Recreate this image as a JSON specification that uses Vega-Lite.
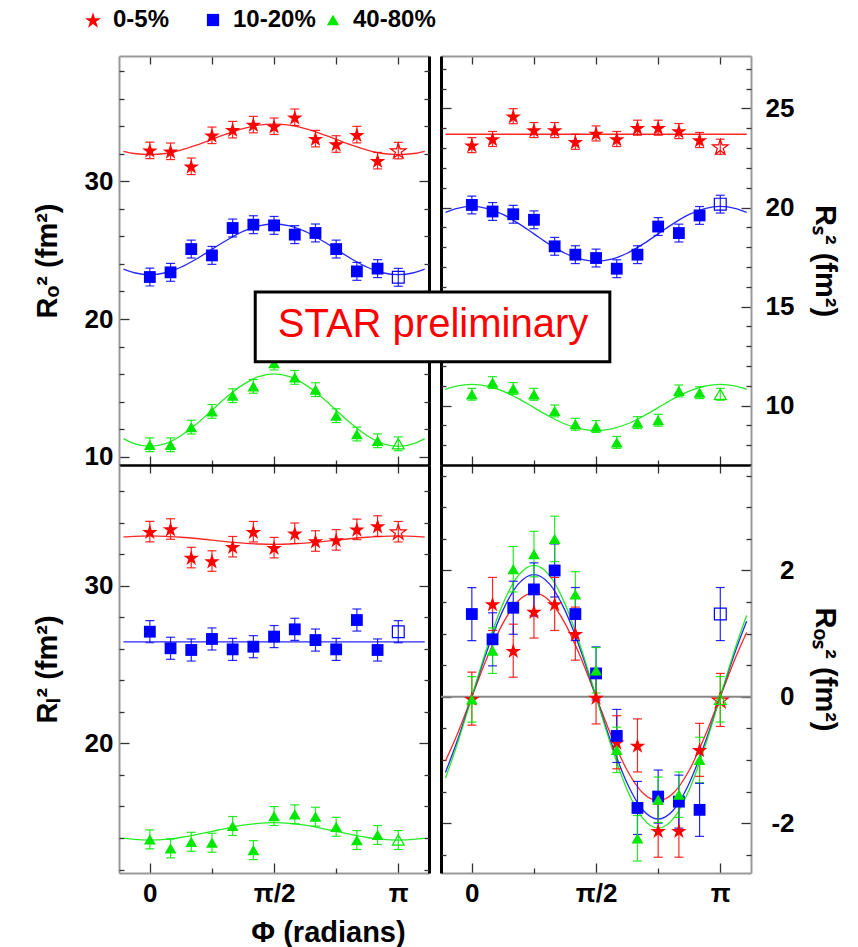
{
"$schema": "https://vega.github.io/schema/vega-lite/v6.json",
"padding": {"left": 33, "top": 8, "right": 5, "bottom": 0},
"columns": 2,
"spacing": {"row": 0, "column": 12},
"bounds": "flush",
"datasets": {
"pts": [
{"panel":"o","cent":"0-5%","phi":0,"R":32.25,"lo":31.65,"hi":32.85,"open":false},
{"panel":"o","cent":"0-5%","phi":0.2618,"R":32.18,"lo":31.58,"hi":32.78,"open":false},
{"panel":"o","cent":"0-5%","phi":0.5236,"R":31.09,"lo":30.49,"hi":31.69,"open":false},
{"panel":"o","cent":"0-5%","phi":0.7854,"R":33.34,"lo":32.74,"hi":33.94,"open":false},
{"panel":"o","cent":"0-5%","phi":1.0472,"R":33.75,"lo":33.15,"hi":34.35,"open":false},
{"panel":"o","cent":"0-5%","phi":1.309,"R":34.12,"lo":33.52,"hi":34.72,"open":false},
{"panel":"o","cent":"0-5%","phi":1.5708,"R":34.0,"lo":33.4,"hi":34.6,"open":false},
{"panel":"o","cent":"0-5%","phi":1.8326,"R":34.65,"lo":34.05,"hi":35.25,"open":false},
{"panel":"o","cent":"0-5%","phi":2.0944,"R":33.1,"lo":32.5,"hi":33.7,"open":false},
{"panel":"o","cent":"0-5%","phi":2.3562,"R":32.71,"lo":32.11,"hi":33.31,"open":false},
{"panel":"o","cent":"0-5%","phi":2.618,"R":33.39,"lo":32.79,"hi":33.99,"open":false},
{"panel":"o","cent":"0-5%","phi":2.8798,"R":31.5,"lo":30.9,"hi":32.1,"open":false},
{"panel":"o","cent":"0-5%","phi":3.1416,"R":32.23,"lo":31.63,"hi":32.83,"open":true},
{"panel":"o","cent":"10-20%","phi":0,"R":23.05,"lo":22.4,"hi":23.7,"open":false},
{"panel":"o","cent":"10-20%","phi":0.2618,"R":23.39,"lo":22.74,"hi":24.04,"open":false},
{"panel":"o","cent":"10-20%","phi":0.5236,"R":25.08,"lo":24.43,"hi":25.73,"open":false},
{"panel":"o","cent":"10-20%","phi":0.7854,"R":24.62,"lo":23.97,"hi":25.27,"open":false},
{"panel":"o","cent":"10-20%","phi":1.0472,"R":26.61,"lo":25.96,"hi":27.26,"open":false},
{"panel":"o","cent":"10-20%","phi":1.309,"R":26.85,"lo":26.2,"hi":27.5,"open":false},
{"panel":"o","cent":"10-20%","phi":1.5708,"R":26.8,"lo":26.15,"hi":27.45,"open":false},
{"panel":"o","cent":"10-20%","phi":1.8326,"R":26.13,"lo":25.48,"hi":26.78,"open":false},
{"panel":"o","cent":"10-20%","phi":2.0944,"R":26.25,"lo":25.6,"hi":26.9,"open":false},
{"panel":"o","cent":"10-20%","phi":2.3562,"R":25.08,"lo":24.43,"hi":25.73,"open":false},
{"panel":"o","cent":"10-20%","phi":2.618,"R":23.46,"lo":22.81,"hi":24.11,"open":false},
{"panel":"o","cent":"10-20%","phi":2.8798,"R":23.66,"lo":23.01,"hi":24.31,"open":false},
{"panel":"o","cent":"10-20%","phi":3.1416,"R":23.03,"lo":22.38,"hi":23.68,"open":true},
{"panel":"o","cent":"40-80%","phi":0,"R":10.87,"lo":10.37,"hi":11.37,"open":false},
{"panel":"o","cent":"40-80%","phi":0.2618,"R":10.87,"lo":10.37,"hi":11.37,"open":false},
{"panel":"o","cent":"40-80%","phi":0.5236,"R":12.15,"lo":11.65,"hi":12.65,"open":false},
{"panel":"o","cent":"40-80%","phi":0.7854,"R":13.29,"lo":12.79,"hi":13.79,"open":false},
{"panel":"o","cent":"40-80%","phi":1.0472,"R":14.43,"lo":13.93,"hi":14.93,"open":false},
{"panel":"o","cent":"40-80%","phi":1.309,"R":15.11,"lo":14.61,"hi":15.61,"open":false},
{"panel":"o","cent":"40-80%","phi":1.5708,"R":16.8,"lo":16.3,"hi":17.3,"open":false},
{"panel":"o","cent":"40-80%","phi":1.8326,"R":15.76,"lo":15.26,"hi":16.26,"open":false},
{"panel":"o","cent":"40-80%","phi":2.0944,"R":14.87,"lo":14.37,"hi":15.37,"open":false},
{"panel":"o","cent":"40-80%","phi":2.3562,"R":12.98,"lo":12.48,"hi":13.48,"open":false},
{"panel":"o","cent":"40-80%","phi":2.618,"R":11.65,"lo":11.15,"hi":12.15,"open":false},
{"panel":"o","cent":"40-80%","phi":2.8798,"R":11.16,"lo":10.66,"hi":11.66,"open":false},
{"panel":"o","cent":"40-80%","phi":3.1416,"R":10.94,"lo":10.44,"hi":11.44,"open":true},
{"panel":"s","cent":"0-5%","phi":0,"R":23.15,"lo":22.77,"hi":23.53,"open":false},
{"panel":"s","cent":"0-5%","phi":0.2618,"R":23.46,"lo":23.08,"hi":23.84,"open":false},
{"panel":"s","cent":"0-5%","phi":0.5236,"R":24.61,"lo":24.23,"hi":24.99,"open":false},
{"panel":"s","cent":"0-5%","phi":0.7854,"R":23.91,"lo":23.53,"hi":24.29,"open":false},
{"panel":"s","cent":"0-5%","phi":1.0472,"R":23.91,"lo":23.53,"hi":24.29,"open":false},
{"panel":"s","cent":"0-5%","phi":1.309,"R":23.32,"lo":22.94,"hi":23.7,"open":false},
{"panel":"s","cent":"0-5%","phi":1.5708,"R":23.74,"lo":23.36,"hi":24.12,"open":false},
{"panel":"s","cent":"0-5%","phi":1.8326,"R":23.46,"lo":23.08,"hi":23.84,"open":false},
{"panel":"s","cent":"0-5%","phi":2.0944,"R":24.03,"lo":23.65,"hi":24.41,"open":false},
{"panel":"s","cent":"0-5%","phi":2.3562,"R":24.03,"lo":23.65,"hi":24.41,"open":false},
{"panel":"s","cent":"0-5%","phi":2.618,"R":23.86,"lo":23.48,"hi":24.24,"open":false},
{"panel":"s","cent":"0-5%","phi":2.8798,"R":23.41,"lo":23.03,"hi":23.79,"open":false},
{"panel":"s","cent":"0-5%","phi":3.1416,"R":23.07,"lo":22.69,"hi":23.45,"open":true},
{"panel":"s","cent":"10-20%","phi":0,"R":20.13,"lo":19.68,"hi":20.58,"open":false},
{"panel":"s","cent":"10-20%","phi":0.2618,"R":19.8,"lo":19.35,"hi":20.25,"open":false},
{"panel":"s","cent":"10-20%","phi":0.5236,"R":19.66,"lo":19.21,"hi":20.11,"open":false},
{"panel":"s","cent":"10-20%","phi":0.7854,"R":19.38,"lo":18.93,"hi":19.83,"open":false},
{"panel":"s","cent":"10-20%","phi":1.0472,"R":18.04,"lo":17.59,"hi":18.49,"open":false},
{"panel":"s","cent":"10-20%","phi":1.309,"R":17.62,"lo":17.17,"hi":18.07,"open":false},
{"panel":"s","cent":"10-20%","phi":1.5708,"R":17.45,"lo":17.0,"hi":17.9,"open":false},
{"panel":"s","cent":"10-20%","phi":1.8326,"R":16.91,"lo":16.46,"hi":17.36,"open":false},
{"panel":"s","cent":"10-20%","phi":2.0944,"R":17.62,"lo":17.17,"hi":18.07,"open":false},
{"panel":"s","cent":"10-20%","phi":2.3562,"R":19.04,"lo":18.59,"hi":19.49,"open":false},
{"panel":"s","cent":"10-20%","phi":2.618,"R":18.71,"lo":18.26,"hi":19.16,"open":false},
{"panel":"s","cent":"10-20%","phi":2.8798,"R":19.6,"lo":19.15,"hi":20.05,"open":false},
{"panel":"s","cent":"10-20%","phi":3.1416,"R":20.17,"lo":19.72,"hi":20.62,"open":true},
{"panel":"s","cent":"40-80%","phi":0,"R":10.57,"lo":10.27,"hi":10.87,"open":false},
{"panel":"s","cent":"40-80%","phi":0.2618,"R":11.16,"lo":10.86,"hi":11.46,"open":false},
{"panel":"s","cent":"40-80%","phi":0.5236,"R":10.86,"lo":10.56,"hi":11.16,"open":false},
{"panel":"s","cent":"40-80%","phi":0.7854,"R":10.57,"lo":10.27,"hi":10.87,"open":false},
{"panel":"s","cent":"40-80%","phi":1.0472,"R":9.73,"lo":9.43,"hi":10.03,"open":false},
{"panel":"s","cent":"40-80%","phi":1.309,"R":9.06,"lo":8.76,"hi":9.36,"open":false},
{"panel":"s","cent":"40-80%","phi":1.5708,"R":8.94,"lo":8.64,"hi":9.24,"open":false},
{"panel":"s","cent":"40-80%","phi":1.8326,"R":8.14,"lo":7.84,"hi":8.44,"open":false},
{"panel":"s","cent":"40-80%","phi":2.0944,"R":9.14,"lo":8.84,"hi":9.44,"open":false},
{"panel":"s","cent":"40-80%","phi":2.3562,"R":9.26,"lo":8.96,"hi":9.56,"open":false},
{"panel":"s","cent":"40-80%","phi":2.618,"R":10.74,"lo":10.44,"hi":11.04,"open":false},
{"panel":"s","cent":"40-80%","phi":2.8798,"R":10.65,"lo":10.35,"hi":10.95,"open":false},
{"panel":"s","cent":"40-80%","phi":3.1416,"R":10.57,"lo":10.27,"hi":10.87,"open":true},
{"panel":"l","cent":"0-5%","phi":0,"R":33.42,"lo":32.77,"hi":34.07,"open":false},
{"panel":"l","cent":"0-5%","phi":0.2618,"R":33.59,"lo":32.94,"hi":34.24,"open":false},
{"panel":"l","cent":"0-5%","phi":0.5236,"R":31.78,"lo":31.13,"hi":32.43,"open":false},
{"panel":"l","cent":"0-5%","phi":0.7854,"R":31.56,"lo":30.91,"hi":32.21,"open":false},
{"panel":"l","cent":"0-5%","phi":1.0472,"R":32.47,"lo":31.82,"hi":33.12,"open":false},
{"panel":"l","cent":"0-5%","phi":1.309,"R":33.42,"lo":32.77,"hi":34.07,"open":false},
{"panel":"l","cent":"0-5%","phi":1.5708,"R":32.41,"lo":31.76,"hi":33.06,"open":false},
{"panel":"l","cent":"0-5%","phi":1.8326,"R":33.32,"lo":32.67,"hi":33.97,"open":false},
{"panel":"l","cent":"0-5%","phi":2.0944,"R":32.83,"lo":32.18,"hi":33.48,"open":false},
{"panel":"l","cent":"0-5%","phi":2.3562,"R":32.9,"lo":32.25,"hi":33.55,"open":false},
{"panel":"l","cent":"0-5%","phi":2.618,"R":33.57,"lo":32.92,"hi":34.22,"open":false},
{"panel":"l","cent":"0-5%","phi":2.8798,"R":33.78,"lo":33.13,"hi":34.43,"open":false},
{"panel":"l","cent":"0-5%","phi":3.1416,"R":33.42,"lo":32.77,"hi":34.07,"open":true},
{"panel":"l","cent":"10-20%","phi":0,"R":27.08,"lo":26.38,"hi":27.78,"open":false},
{"panel":"l","cent":"10-20%","phi":0.2618,"R":26.03,"lo":25.33,"hi":26.73,"open":false},
{"panel":"l","cent":"10-20%","phi":0.5236,"R":25.92,"lo":25.22,"hi":26.62,"open":false},
{"panel":"l","cent":"10-20%","phi":0.7854,"R":26.62,"lo":25.92,"hi":27.32,"open":false},
{"panel":"l","cent":"10-20%","phi":1.0472,"R":25.96,"lo":25.26,"hi":26.66,"open":false},
{"panel":"l","cent":"10-20%","phi":1.309,"R":26.13,"lo":25.43,"hi":26.83,"open":false},
{"panel":"l","cent":"10-20%","phi":1.5708,"R":26.77,"lo":26.07,"hi":27.47,"open":false},
{"panel":"l","cent":"10-20%","phi":1.8326,"R":27.23,"lo":26.53,"hi":27.93,"open":false},
{"panel":"l","cent":"10-20%","phi":2.0944,"R":26.55,"lo":25.85,"hi":27.25,"open":false},
{"panel":"l","cent":"10-20%","phi":2.3562,"R":25.96,"lo":25.26,"hi":26.66,"open":false},
{"panel":"l","cent":"10-20%","phi":2.618,"R":27.82,"lo":27.12,"hi":28.52,"open":false},
{"panel":"l","cent":"10-20%","phi":2.8798,"R":25.92,"lo":25.22,"hi":26.62,"open":false},
{"panel":"l","cent":"10-20%","phi":3.1416,"R":27.08,"lo":26.38,"hi":27.78,"open":true},
{"panel":"l","cent":"40-80%","phi":0,"R":13.91,"lo":13.31,"hi":14.51,"open":false},
{"panel":"l","cent":"40-80%","phi":0.2618,"R":13.34,"lo":12.74,"hi":13.94,"open":false},
{"panel":"l","cent":"40-80%","phi":0.5236,"R":13.76,"lo":13.16,"hi":14.36,"open":false},
{"panel":"l","cent":"40-80%","phi":0.7854,"R":13.7,"lo":13.1,"hi":14.3,"open":false},
{"panel":"l","cent":"40-80%","phi":1.0472,"R":14.76,"lo":14.16,"hi":15.36,"open":false},
{"panel":"l","cent":"40-80%","phi":1.309,"R":13.23,"lo":12.63,"hi":13.83,"open":false},
{"panel":"l","cent":"40-80%","phi":1.5708,"R":15.39,"lo":14.79,"hi":15.99,"open":false},
{"panel":"l","cent":"40-80%","phi":1.8326,"R":15.5,"lo":14.9,"hi":16.1,"open":false},
{"panel":"l","cent":"40-80%","phi":2.0944,"R":15.35,"lo":14.75,"hi":15.95,"open":false},
{"panel":"l","cent":"40-80%","phi":2.3562,"R":14.71,"lo":14.11,"hi":15.31,"open":false},
{"panel":"l","cent":"40-80%","phi":2.618,"R":13.87,"lo":13.27,"hi":14.47,"open":false},
{"panel":"l","cent":"40-80%","phi":2.8798,"R":14.19,"lo":13.59,"hi":14.79,"open":false},
{"panel":"l","cent":"40-80%","phi":3.1416,"R":13.87,"lo":13.27,"hi":14.47,"open":true},
{"panel":"os","cent":"0-5%","phi":0,"R":-0.03,"lo":-0.45,"hi":0.39,"open":false},
{"panel":"os","cent":"0-5%","phi":0.2618,"R":1.47,"lo":1.05,"hi":1.89,"open":false},
{"panel":"os","cent":"0-5%","phi":0.5236,"R":0.73,"lo":0.31,"hi":1.15,"open":false},
{"panel":"os","cent":"0-5%","phi":0.7854,"R":1.35,"lo":0.93,"hi":1.77,"open":false},
{"panel":"os","cent":"0-5%","phi":1.0472,"R":1.47,"lo":1.05,"hi":1.89,"open":false},
{"panel":"os","cent":"0-5%","phi":1.309,"R":1.0,"lo":0.58,"hi":1.42,"open":false},
{"panel":"os","cent":"0-5%","phi":1.5708,"R":-0.01,"lo":-0.43,"hi":0.41,"open":false},
{"panel":"os","cent":"0-5%","phi":1.8326,"R":-0.72,"lo":-1.14,"hi":-0.3,"open":false},
{"panel":"os","cent":"0-5%","phi":2.0944,"R":-0.77,"lo":-1.19,"hi":-0.35,"open":false},
{"panel":"os","cent":"0-5%","phi":2.3562,"R":-2.12,"lo":-2.54,"hi":-1.7,"open":false},
{"panel":"os","cent":"0-5%","phi":2.618,"R":-2.12,"lo":-2.54,"hi":-1.7,"open":false},
{"panel":"os","cent":"0-5%","phi":2.8798,"R":-0.84,"lo":-1.26,"hi":-0.42,"open":false},
{"panel":"os","cent":"0-5%","phi":3.1416,"R":-0.05,"lo":-0.47,"hi":0.37,"open":true},
{"panel":"os","cent":"10-20%","phi":0,"R":1.31,"lo":0.89,"hi":1.73,"open":false},
{"panel":"os","cent":"10-20%","phi":0.2618,"R":0.91,"lo":0.49,"hi":1.33,"open":false},
{"panel":"os","cent":"10-20%","phi":0.5236,"R":1.41,"lo":0.99,"hi":1.83,"open":false},
{"panel":"os","cent":"10-20%","phi":0.7854,"R":1.7,"lo":1.28,"hi":2.12,"open":false},
{"panel":"os","cent":"10-20%","phi":1.0472,"R":2.0,"lo":1.58,"hi":2.42,"open":false},
{"panel":"os","cent":"10-20%","phi":1.309,"R":1.31,"lo":0.89,"hi":1.73,"open":false},
{"panel":"os","cent":"10-20%","phi":1.5708,"R":0.37,"lo":-0.05,"hi":0.79,"open":false},
{"panel":"os","cent":"10-20%","phi":1.8326,"R":-0.62,"lo":-1.04,"hi":-0.2,"open":false},
{"panel":"os","cent":"10-20%","phi":2.0944,"R":-1.76,"lo":-2.18,"hi":-1.34,"open":false},
{"panel":"os","cent":"10-20%","phi":2.3562,"R":-1.58,"lo":-2.0,"hi":-1.16,"open":false},
{"panel":"os","cent":"10-20%","phi":2.618,"R":-1.66,"lo":-2.08,"hi":-1.24,"open":false},
{"panel":"os","cent":"10-20%","phi":2.8798,"R":-1.79,"lo":-2.21,"hi":-1.37,"open":false},
{"panel":"os","cent":"10-20%","phi":3.1416,"R":1.31,"lo":0.89,"hi":1.73,"open":true},
{"panel":"os","cent":"40-80%","phi":0,"R":-0.04,"lo":-0.4,"hi":0.32,"open":false},
{"panel":"os","cent":"40-80%","phi":0.2618,"R":0.73,"lo":0.37,"hi":1.09,"open":false},
{"panel":"os","cent":"40-80%","phi":0.5236,"R":2.02,"lo":1.66,"hi":2.38,"open":false},
{"panel":"os","cent":"40-80%","phi":0.7854,"R":2.26,"lo":1.9,"hi":2.62,"open":false},
{"panel":"os","cent":"40-80%","phi":1.0472,"R":2.5,"lo":2.14,"hi":2.86,"open":false},
{"panel":"os","cent":"40-80%","phi":1.309,"R":1.62,"lo":1.26,"hi":1.98,"open":false},
{"panel":"os","cent":"40-80%","phi":1.5708,"R":0.42,"lo":0.06,"hi":0.78,"open":false},
{"panel":"os","cent":"40-80%","phi":1.8326,"R":-0.84,"lo":-1.2,"hi":-0.48,"open":false},
{"panel":"os","cent":"40-80%","phi":2.0944,"R":-2.24,"lo":-2.6,"hi":-1.88,"open":false},
{"panel":"os","cent":"40-80%","phi":2.3562,"R":-1.63,"lo":-1.99,"hi":-1.27,"open":false},
{"panel":"os","cent":"40-80%","phi":2.618,"R":-1.55,"lo":-1.91,"hi":-1.19,"open":false},
{"panel":"os","cent":"40-80%","phi":2.8798,"R":-1.0,"lo":-1.36,"hi":-0.64,"open":false},
{"panel":"os","cent":"40-80%","phi":3.1416,"R":-0.04,"lo":-0.4,"hi":0.32,"open":true}
],
"fit": [
{"panel":"o","phi":-0.3338,"0-5%":32.18,"10-20%":23.62,"40-80%":11.32},
{"panel":"o","phi":-0.1963,"0-5%":32.02,"10-20%":23.36,"40-80%":10.95},
{"panel":"o","phi":0,"0-5%":31.94,"10-20%":23.22,"40-80%":10.75},
{"panel":"o","phi":0.1963,"0-5%":32.02,"10-20%":23.36,"40-80%":10.95},
{"panel":"o","phi":0.3927,"0-5%":32.27,"10-20%":23.76,"40-80%":11.52},
{"panel":"o","phi":0.589,"0-5%":32.63,"10-20%":24.36,"40-80%":12.37},
{"panel":"o","phi":0.7854,"0-5%":33.05,"10-20%":25.06,"40-80%":13.38},
{"panel":"o","phi":0.9817,"0-5%":33.47,"10-20%":25.76,"40-80%":14.39},
{"panel":"o","phi":1.1781,"0-5%":33.83,"10-20%":26.36,"40-80%":15.24},
{"panel":"o","phi":1.3744,"0-5%":34.08,"10-20%":26.76,"40-80%":15.81},
{"panel":"o","phi":1.5708,"0-5%":34.16,"10-20%":26.9,"40-80%":16.01},
{"panel":"o","phi":1.7671,"0-5%":34.08,"10-20%":26.76,"40-80%":15.81},
{"panel":"o","phi":1.9635,"0-5%":33.83,"10-20%":26.36,"40-80%":15.24},
{"panel":"o","phi":2.1598,"0-5%":33.47,"10-20%":25.76,"40-80%":14.39},
{"panel":"o","phi":2.3562,"0-5%":33.05,"10-20%":25.06,"40-80%":13.38},
{"panel":"o","phi":2.5525,"0-5%":32.63,"10-20%":24.36,"40-80%":12.37},
{"panel":"o","phi":2.7489,"0-5%":32.27,"10-20%":23.76,"40-80%":11.52},
{"panel":"o","phi":2.9452,"0-5%":32.02,"10-20%":23.36,"40-80%":10.95},
{"panel":"o","phi":3.1416,"0-5%":31.94,"10-20%":23.22,"40-80%":10.75},
{"panel":"o","phi":3.3379,"0-5%":32.02,"10-20%":23.36,"40-80%":10.95},
{"panel":"o","phi":3.4754,"0-5%":32.18,"10-20%":23.62,"40-80%":11.32},
{"panel":"s","phi":-0.3338,"0-5%":23.7,"10-20%":19.76,"40-80%":10.82},
{"panel":"s","phi":-0.1963,"0-5%":23.7,"10-20%":19.95,"40-80%":10.98},
{"panel":"s","phi":0,"0-5%":23.7,"10-20%":20.06,"40-80%":11.07},
{"panel":"s","phi":0.1963,"0-5%":23.7,"10-20%":19.95,"40-80%":10.98},
{"panel":"s","phi":0.3927,"0-5%":23.7,"10-20%":19.65,"40-80%":10.73},
{"panel":"s","phi":0.589,"0-5%":23.7,"10-20%":19.2,"40-80%":10.35},
{"panel":"s","phi":0.7854,"0-5%":23.7,"10-20%":18.67,"40-80%":9.9},
{"panel":"s","phi":0.9817,"0-5%":23.7,"10-20%":18.14,"40-80%":9.45},
{"panel":"s","phi":1.1781,"0-5%":23.7,"10-20%":17.69,"40-80%":9.07},
{"panel":"s","phi":1.3744,"0-5%":23.7,"10-20%":17.39,"40-80%":8.82},
{"panel":"s","phi":1.5708,"0-5%":23.7,"10-20%":17.29,"40-80%":8.73},
{"panel":"s","phi":1.7671,"0-5%":23.7,"10-20%":17.39,"40-80%":8.82},
{"panel":"s","phi":1.9635,"0-5%":23.7,"10-20%":17.69,"40-80%":9.07},
{"panel":"s","phi":2.1598,"0-5%":23.7,"10-20%":18.14,"40-80%":9.45},
{"panel":"s","phi":2.3562,"0-5%":23.7,"10-20%":18.67,"40-80%":9.9},
{"panel":"s","phi":2.5525,"0-5%":23.7,"10-20%":19.2,"40-80%":10.35},
{"panel":"s","phi":2.7489,"0-5%":23.7,"10-20%":19.65,"40-80%":10.73},
{"panel":"s","phi":2.9452,"0-5%":23.7,"10-20%":19.95,"40-80%":10.98},
{"panel":"s","phi":3.1416,"0-5%":23.7,"10-20%":20.06,"40-80%":11.07},
{"panel":"s","phi":3.3379,"0-5%":23.7,"10-20%":19.95,"40-80%":10.98},
{"panel":"s","phi":3.4754,"0-5%":23.7,"10-20%":19.76,"40-80%":10.82},
{"panel":"l","phi":-0.3338,"0-5%":33.09,"10-20%":26.43,"40-80%":13.99},
{"panel":"l","phi":-0.1963,"0-5%":33.13,"10-20%":26.43,"40-80%":13.91},
{"panel":"l","phi":0,"0-5%":33.15,"10-20%":26.43,"40-80%":13.87},
{"panel":"l","phi":0.1963,"0-5%":33.13,"10-20%":26.43,"40-80%":13.91},
{"panel":"l","phi":0.3927,"0-5%":33.07,"10-20%":26.43,"40-80%":14.03},
{"panel":"l","phi":0.589,"0-5%":32.99,"10-20%":26.43,"40-80%":14.21},
{"panel":"l","phi":0.7854,"0-5%":32.89,"10-20%":26.43,"40-80%":14.42},
{"panel":"l","phi":0.9817,"0-5%":32.78,"10-20%":26.43,"40-80%":14.63},
{"panel":"l","phi":1.1781,"0-5%":32.7,"10-20%":26.43,"40-80%":14.81},
{"panel":"l","phi":1.3744,"0-5%":32.64,"10-20%":26.43,"40-80%":14.93},
{"panel":"l","phi":1.5708,"0-5%":32.62,"10-20%":26.43,"40-80%":14.97},
{"panel":"l","phi":1.7671,"0-5%":32.64,"10-20%":26.43,"40-80%":14.93},
{"panel":"l","phi":1.9635,"0-5%":32.7,"10-20%":26.43,"40-80%":14.81},
{"panel":"l","phi":2.1598,"0-5%":32.78,"10-20%":26.43,"40-80%":14.63},
{"panel":"l","phi":2.3562,"0-5%":32.89,"10-20%":26.43,"40-80%":14.42},
{"panel":"l","phi":2.5525,"0-5%":32.99,"10-20%":26.43,"40-80%":14.21},
{"panel":"l","phi":2.7489,"0-5%":33.07,"10-20%":26.43,"40-80%":14.03},
{"panel":"l","phi":2.9452,"0-5%":33.13,"10-20%":26.43,"40-80%":13.91},
{"panel":"l","phi":3.1416,"0-5%":33.15,"10-20%":26.43,"40-80%":13.87},
{"panel":"l","phi":3.3379,"0-5%":33.13,"10-20%":26.43,"40-80%":13.91},
{"panel":"l","phi":3.4754,"0-5%":33.09,"10-20%":26.43,"40-80%":13.99},
{"panel":"os","phi":-0.3338,"0-5%":-1.018,"10-20%":-1.198,"40-80%":-1.288},
{"panel":"os","phi":-0.1963,"0-5%":-0.63,"10-20%":-0.741,"40-80%":-0.796},
{"panel":"os","phi":0,"0-5%":0,"10-20%":0,"40-80%":0},
{"panel":"os","phi":0.1963,"0-5%":0.63,"10-20%":0.741,"40-80%":0.796},
{"panel":"os","phi":0.3927,"0-5%":1.163,"10-20%":1.368,"40-80%":1.471},
{"panel":"os","phi":0.589,"0-5%":1.52,"10-20%":1.788,"40-80%":1.922},
{"panel":"os","phi":0.7854,"0-5%":1.645,"10-20%":1.935,"40-80%":2.08},
{"panel":"os","phi":0.9817,"0-5%":1.52,"10-20%":1.788,"40-80%":1.922},
{"panel":"os","phi":1.1781,"0-5%":1.163,"10-20%":1.368,"40-80%":1.471},
{"panel":"os","phi":1.3744,"0-5%":0.63,"10-20%":0.741,"40-80%":0.796},
{"panel":"os","phi":1.5708,"0-5%":0,"10-20%":0,"40-80%":0},
{"panel":"os","phi":1.7671,"0-5%":-0.63,"10-20%":-0.741,"40-80%":-0.796},
{"panel":"os","phi":1.9635,"0-5%":-1.163,"10-20%":-1.368,"40-80%":-1.471},
{"panel":"os","phi":2.1598,"0-5%":-1.52,"10-20%":-1.788,"40-80%":-1.922},
{"panel":"os","phi":2.3562,"0-5%":-1.645,"10-20%":-1.935,"40-80%":-2.08},
{"panel":"os","phi":2.5525,"0-5%":-1.52,"10-20%":-1.788,"40-80%":-1.922},
{"panel":"os","phi":2.7489,"0-5%":-1.163,"10-20%":-1.368,"40-80%":-1.471},
{"panel":"os","phi":2.9452,"0-5%":-0.63,"10-20%":-0.741,"40-80%":-0.796},
{"panel":"os","phi":3.1416,"0-5%":0,"10-20%":0,"40-80%":0},
{"panel":"os","phi":3.3379,"0-5%":0.63,"10-20%":0.741,"40-80%":0.796},
{"panel":"os","phi":3.4754,"0-5%":1.018,"10-20%":1.198,"40-80%":1.288}
]
},
"concat": [
{
"width": 310, "height": 409,
"resolve": {"axis": {"x": "independent", "y": "independent"}},
"layer": [
{"data": {"name": "fit"}, "transform": [{"filter": "datum.panel == 'o'"}, {"fold": ["0-5%", "10-20%", "40-80%"], "as": ["cent", "R"]}],
 "mark": {"type": "line", "strokeWidth": 1.3, "interpolate": "monotone", "opacity": 0.85},
 "encoding": {
  "x": {"field": "phi", "type": "quantitative", "scale": {"domain": [-0.39, 3.53], "nice": false, "zero": false},
        "axis": {"orient": "bottom", "values": [0, 1.5708, 3.1416], "labels": false, "tickSize": -9, "domainColor": "#000", "domainWidth": 2, "title": null}},
  "y": {"field": "R", "type": "quantitative", "scale": {"domain": [9.4, 39.1], "nice": false, "zero": false},
        "axis": {"orient": "left", "values": [10, 20, 30], "tickSize": -10, "labelPadding": 16, "domainColor": "#999", "domainWidth": 2, "title": "Rₒ² (fm²)", "titlePadding": 22}},
  "stroke": {"field": "cent", "type": "nominal", "scale": {"domain": ["40-80%", "10-20%", "0-5%"], "range": ["#00e800", "#0000ff", "#ff0000"]}, "legend": null}
 }},
{"data": {"name": "pts"}, "transform": [{"filter": "datum.panel == 'o'"}],
 "mark": {"type": "rule", "strokeWidth": 1.2, "opacity": 0.85},
 "encoding": {
  "x": {"field": "phi", "type": "quantitative", "axis": {"orient": "bottom", "values": [0.7854, 2.3562], "labels": false, "tickSize": -5, "domain": false, "title": null}},
  "y": {"field": "lo", "type": "quantitative", "axis": {"orient": "left", "values": [12, 14, 16, 18, 22, 24, 26, 28, 32, 34, 36, 38], "labels": false, "tickSize": -5, "domain": false, "title": null}},
  "y2": {"field": "hi"},
  "stroke": {"field": "cent", "type": "nominal", "legend": null}
 }},
{"data": {"name": "pts"}, "transform": [{"filter": "datum.panel == 'o'"}],
 "mark": {"type": "tick", "orient": "horizontal", "size": 9, "thickness": 1.2, "opacity": 0.85},
 "encoding": {"x": {"field": "phi", "type": "quantitative", "axis": null}, "y": {"field": "lo", "type": "quantitative", "axis": null}, "fill": {"field": "cent", "type": "nominal", "scale": {"domain": ["40-80%", "10-20%", "0-5%"], "range": ["#00e800", "#0000ff", "#ff0000"]}, "legend": null}}},
{"data": {"name": "pts"}, "transform": [{"filter": "datum.panel == 'o'"}],
 "mark": {"type": "tick", "orient": "horizontal", "size": 9, "thickness": 1.2, "opacity": 0.85},
 "encoding": {"x": {"field": "phi", "type": "quantitative", "axis": null}, "y": {"field": "hi", "type": "quantitative", "axis": null}, "fill": {"field": "cent", "type": "nominal", "legend": null}}},
{"data": {"name": "pts"}, "transform": [{"filter": "datum.panel == 'o' && !datum.open"}],
 "mark": {"type": "point", "filled": true, "size": 140, "opacity": 1},
 "encoding": {
  "x": {"field": "phi", "type": "quantitative", "axis": {"orient": "top", "values": [0, 0.7854, 1.5708, 2.3562, 3.1416], "labels": false, "tickSize": -8, "domainColor": "#999", "domainWidth": 2, "title": null}},
  "y": {"field": "R", "type": "quantitative", "axis": {"orient": "right", "values": [10, 20, 30], "labels": false, "tickSize": -10, "domainColor": "#000", "domainWidth": 3, "title": null}},
  "color": {"field": "cent", "type": "nominal", "scale": {"domain": ["0-5%", "10-20%", "40-80%"], "range": ["#ff0000", "#0000ff", "#00e800"]}},
  "shape": {"field": "cent", "type": "nominal", "scale": {"domain": ["0-5%", "10-20%", "40-80%"], "range": ["M0,-1.248L0.31,-0.294L1.313,-0.294L0.5,0.295L0.811,1.248L0,0.659L-0.811,1.248L-0.5,0.295L-1.313,-0.294L-0.31,-0.294Z", "square", "triangle-up"]}}
 }},
{"data": {"name": "pts"}, "transform": [{"filter": "datum.panel == 'o' && datum.open"}],
 "mark": {"type": "point", "filled": false, "size": 140, "strokeWidth": 1.2, "opacity": 1},
 "encoding": {
  "x": {"field": "phi", "type": "quantitative", "axis": null},
  "y": {"field": "R", "type": "quantitative", "axis": {"orient": "right", "values": [12, 14, 16, 18, 22, 24, 26, 28, 32, 34, 36, 38], "labels": false, "tickSize": -5, "domain": false, "title": null}},
  "color": {"field": "cent", "type": "nominal"},
  "shape": {"field": "cent", "type": "nominal"}
 }}
]
},
{
"width": 310, "height": 409,
"resolve": {"axis": {"x": "independent", "y": "independent"}},
"layer": [
{"data": {"name": "fit"}, "transform": [{"filter": "datum.panel == 's'"}, {"fold": ["0-5%", "10-20%", "40-80%"], "as": ["cent", "R"]}],
 "mark": {"type": "line", "strokeWidth": 1.3, "interpolate": "monotone", "opacity": 0.85},
 "encoding": {
  "x": {"field": "phi", "type": "quantitative", "scale": {"domain": [-0.39, 3.53], "nice": false, "zero": false},
        "axis": {"orient": "bottom", "values": [0, 1.5708, 3.1416], "labels": false, "tickSize": -9, "domainColor": "#000", "domainWidth": 2, "title": null}},
  "y": {"field": "R", "type": "quantitative", "scale": {"domain": [7.0, 27.65], "nice": false, "zero": false},
        "axis": {"orient": "right", "values": [10, 15, 20, 25], "tickSize": -10, "labelPadding": 53, "labelAlign": "right", "domainColor": "#999", "domainWidth": 2, "title": "Rₛ² (fm²)", "titlePadding": 15}},
  "stroke": {"field": "cent", "type": "nominal", "scale": {"domain": ["40-80%", "10-20%", "0-5%"], "range": ["#00e800", "#0000ff", "#ff0000"]}, "legend": null}
 }},
{"data": {"name": "pts"}, "transform": [{"filter": "datum.panel == 's'"}],
 "mark": {"type": "rule", "strokeWidth": 1.2, "opacity": 0.85},
 "encoding": {
  "x": {"field": "phi", "type": "quantitative", "axis": {"orient": "bottom", "values": [0.7854, 2.3562], "labels": false, "tickSize": -5, "domain": false, "title": null}},
  "y": {"field": "lo", "type": "quantitative", "axis": {"orient": "right", "values": [8, 9, 11, 12, 13, 14, 16, 17, 18, 19, 21, 22, 23, 24, 26, 27], "labels": false, "tickSize": -5, "domain": false, "title": null}},
  "y2": {"field": "hi"},
  "stroke": {"field": "cent", "type": "nominal", "legend": null}
 }},
{"data": {"name": "pts"}, "transform": [{"filter": "datum.panel == 's'"}],
 "mark": {"type": "tick", "orient": "horizontal", "size": 9, "thickness": 1.2, "opacity": 0.85},
 "encoding": {"x": {"field": "phi", "type": "quantitative", "axis": null}, "y": {"field": "lo", "type": "quantitative", "axis": null}, "fill": {"field": "cent", "type": "nominal", "scale": {"domain": ["40-80%", "10-20%", "0-5%"], "range": ["#00e800", "#0000ff", "#ff0000"]}, "legend": null}}},
{"data": {"name": "pts"}, "transform": [{"filter": "datum.panel == 's'"}],
 "mark": {"type": "tick", "orient": "horizontal", "size": 9, "thickness": 1.2, "opacity": 0.85},
 "encoding": {"x": {"field": "phi", "type": "quantitative", "axis": null}, "y": {"field": "hi", "type": "quantitative", "axis": null}, "fill": {"field": "cent", "type": "nominal", "legend": null}}},
{"data": {"name": "pts"}, "transform": [{"filter": "datum.panel == 's' && !datum.open"}],
 "mark": {"type": "point", "filled": true, "size": 140, "opacity": 1},
 "encoding": {
  "x": {"field": "phi", "type": "quantitative", "axis": {"orient": "top", "values": [0, 0.7854, 1.5708, 2.3562, 3.1416], "labels": false, "tickSize": -8, "domainColor": "#999", "domainWidth": 2, "title": null}},
  "y": {"field": "R", "type": "quantitative", "axis": {"orient": "left", "values": [10, 15, 20, 25], "labels": false, "tickSize": -10, "domainColor": "#000", "domainWidth": 3, "title": null}},
  "color": {"field": "cent", "type": "nominal", "scale": {"domain": ["0-5%", "10-20%", "40-80%"], "range": ["#ff0000", "#0000ff", "#00e800"]}},
  "shape": {"field": "cent", "type": "nominal", "scale": {"domain": ["0-5%", "10-20%", "40-80%"], "range": ["M0,-1.248L0.31,-0.294L1.313,-0.294L0.5,0.295L0.811,1.248L0,0.659L-0.811,1.248L-0.5,0.295L-1.313,-0.294L-0.31,-0.294Z", "square", "triangle-up"]}}
 }},
{"data": {"name": "pts"}, "transform": [{"filter": "datum.panel == 's' && datum.open"}],
 "mark": {"type": "point", "filled": false, "size": 140, "strokeWidth": 1.2, "opacity": 1},
 "encoding": {
  "x": {"field": "phi", "type": "quantitative", "axis": null},
  "y": {"field": "R", "type": "quantitative", "axis": {"orient": "left", "values": [8, 9, 11, 12, 13, 14, 16, 17, 18, 19, 21, 22, 23, 24, 26, 27], "labels": false, "tickSize": -5, "domain": false, "title": null}},
  "color": {"field": "cent", "type": "nominal"},
  "shape": {"field": "cent", "type": "nominal"}
 }},
{"data": {"values": [{"label": "STAR preliminary"}]},
 "mark": {"type": "rect", "fill": "#ffffff", "stroke": "#000000", "strokeWidth": 3},
 "encoding": {"x": {"datum": -2.739, "axis": null}, "x2": {"datum": 1.745}, "y": {"datum": 15.74, "axis": null}, "y2": {"datum": 12.21}}},
{"data": {"values": [{"label": "STAR preliminary"}]},
 "mark": {"type": "text", "font": "Liberation Sans", "fontSize": 40, "color": "#ff0000", "align": "center", "baseline": "alphabetic"},
 "encoding": {"x": {"datum": -0.491, "axis": null}, "y": {"datum": 13.46, "axis": null}, "text": {"field": "label"}}}
]
},
{
"width": 310, "height": 408,
"resolve": {"axis": {"x": "independent", "y": "independent"}},
"layer": [
{"data": {"name": "fit"}, "transform": [{"filter": "datum.panel == 'l'"}, {"fold": ["0-5%", "10-20%", "40-80%"], "as": ["cent", "R"]}],
 "mark": {"type": "line", "strokeWidth": 1.3, "interpolate": "monotone", "opacity": 0.85},
 "encoding": {
  "x": {"field": "phi", "type": "quantitative", "scale": {"domain": [-0.39, 3.53], "nice": false, "zero": false},
        "axis": {"orient": "bottom", "values": [0, 1.5708, 3.1416], "labelExpr": "datum.value < 0.5 ? '0' : datum.value < 2 ? 'π/2' : 'π'", "labelFontSize": 26, "tickSize": -10, "labelPadding": 17, "domainColor": "#999", "domainWidth": 2, "title": "Φ (radians)", "titleX": 209, "titlePadding": 12}},
  "y": {"field": "R", "type": "quantitative", "scale": {"domain": [11.78, 37.65], "nice": false, "zero": false},
        "axis": {"orient": "left", "values": [20, 30], "tickSize": -10, "labelPadding": 16, "domainColor": "#999", "domainWidth": 2, "title": "Rₗ² (fm²)", "titlePadding": 22}},
  "stroke": {"field": "cent", "type": "nominal", "scale": {"domain": ["40-80%", "10-20%", "0-5%"], "range": ["#00e800", "#0000ff", "#ff0000"]}, "legend": null}
 }},
{"data": {"name": "pts"}, "transform": [{"filter": "datum.panel == 'l'"}],
 "mark": {"type": "rule", "strokeWidth": 1.2, "opacity": 0.85},
 "encoding": {
  "x": {"field": "phi", "type": "quantitative", "axis": {"orient": "bottom", "values": [0.7854, 2.3562], "labels": false, "tickSize": -5, "domain": false, "title": null}},
  "y": {"field": "lo", "type": "quantitative", "axis": {"orient": "left", "values": [12, 14, 16, 18, 22, 24, 26, 28, 32, 34, 36], "labels": false, "tickSize": -5, "domain": false, "title": null}},
  "y2": {"field": "hi"},
  "stroke": {"field": "cent", "type": "nominal", "legend": null}
 }},
{"data": {"name": "pts"}, "transform": [{"filter": "datum.panel == 'l'"}],
 "mark": {"type": "tick", "orient": "horizontal", "size": 9, "thickness": 1.2, "opacity": 0.85},
 "encoding": {"x": {"field": "phi", "type": "quantitative", "axis": null}, "y": {"field": "lo", "type": "quantitative", "axis": null}, "fill": {"field": "cent", "type": "nominal", "scale": {"domain": ["40-80%", "10-20%", "0-5%"], "range": ["#00e800", "#0000ff", "#ff0000"]}, "legend": null}}},
{"data": {"name": "pts"}, "transform": [{"filter": "datum.panel == 'l'"}],
 "mark": {"type": "tick", "orient": "horizontal", "size": 9, "thickness": 1.2, "opacity": 0.85},
 "encoding": {"x": {"field": "phi", "type": "quantitative", "axis": null}, "y": {"field": "hi", "type": "quantitative", "axis": null}, "fill": {"field": "cent", "type": "nominal", "legend": null}}},
{"data": {"name": "pts"}, "transform": [{"filter": "datum.panel == 'l' && !datum.open"}],
 "mark": {"type": "point", "filled": true, "size": 140, "opacity": 1},
 "encoding": {
  "x": {"field": "phi", "type": "quantitative", "axis": {"orient": "top", "values": [0, 0.7854, 1.5708, 2.3562, 3.1416], "labels": false, "tickSize": -8, "domainColor": "#000", "domainWidth": 2, "title": null}},
  "y": {"field": "R", "type": "quantitative", "axis": {"orient": "right", "values": [20, 30], "labels": false, "tickSize": -10, "domainColor": "#000", "domainWidth": 3, "title": null}},
  "color": {"field": "cent", "type": "nominal", "scale": {"domain": ["0-5%", "10-20%", "40-80%"], "range": ["#ff0000", "#0000ff", "#00e800"]}},
  "shape": {"field": "cent", "type": "nominal", "scale": {"domain": ["0-5%", "10-20%", "40-80%"], "range": ["M0,-1.248L0.31,-0.294L1.313,-0.294L0.5,0.295L0.811,1.248L0,0.659L-0.811,1.248L-0.5,0.295L-1.313,-0.294L-0.31,-0.294Z", "square", "triangle-up"]}}
 }},
{"data": {"name": "pts"}, "transform": [{"filter": "datum.panel == 'l' && datum.open"}],
 "mark": {"type": "point", "filled": false, "size": 140, "strokeWidth": 1.2, "opacity": 1},
 "encoding": {
  "x": {"field": "phi", "type": "quantitative", "axis": null},
  "y": {"field": "R", "type": "quantitative", "axis": {"orient": "right", "values": [12, 14, 16, 18, 22, 24, 26, 28, 32, 34, 36], "labels": false, "tickSize": -5, "domain": false, "title": null}},
  "color": {"field": "cent", "type": "nominal"},
  "shape": {"field": "cent", "type": "nominal"}
 }}
]
},
{
"width": 310, "height": 408,
"resolve": {"axis": {"x": "independent", "y": "independent"}},
"layer": [
{"data": {"values": [{"label": "zero"}]},
 "mark": {"type": "rule", "color": "#888888", "strokeWidth": 2},
 "encoding": {"y": {"datum": 0, "axis": null}}},
{"data": {"name": "fit"}, "transform": [{"filter": "datum.panel == 'os'"}, {"fold": ["0-5%", "10-20%", "40-80%"], "as": ["cent", "R"]}],
 "mark": {"type": "line", "strokeWidth": 1.3, "interpolate": "monotone", "opacity": 0.85},
 "encoding": {
  "x": {"field": "phi", "type": "quantitative", "scale": {"domain": [-0.39, 3.53], "nice": false, "zero": false},
        "axis": {"orient": "bottom", "values": [0, 1.5708, 3.1416], "labelExpr": "datum.value < 0.5 ? '0' : datum.value < 2 ? 'π/2' : 'π'", "labelFontSize": 26, "tickSize": -10, "labelPadding": 17, "domainColor": "#999", "domainWidth": 2, "title": null}},
  "y": {"field": "R", "type": "quantitative", "scale": {"domain": [-2.79, 3.67], "nice": false, "zero": false},
        "axis": {"orient": "right", "values": [-2, 0, 2], "labelExpr": "datum.value < 0 ? '-' + abs(datum.value) : '' + datum.value", "tickSize": -10, "labelPadding": 53, "labelAlign": "right", "domainColor": "#999", "domainWidth": 2, "title": "Rₒₛ² (fm²)", "titlePadding": 15}},
  "stroke": {"field": "cent", "type": "nominal", "scale": {"domain": ["40-80%", "10-20%", "0-5%"], "range": ["#00e800", "#0000ff", "#ff0000"]}, "legend": null}
 }},
{"data": {"name": "pts"}, "transform": [{"filter": "datum.panel == 'os'"}],
 "mark": {"type": "rule", "strokeWidth": 1.2, "opacity": 0.85},
 "encoding": {
  "x": {"field": "phi", "type": "quantitative", "axis": {"orient": "bottom", "values": [0.7854, 2.3562], "labels": false, "tickSize": -5, "domain": false, "title": null}},
  "y": {"field": "lo", "type": "quantitative", "axis": {"orient": "right", "values": [-2.5, -1.5, -1, -0.5, 0.5, 1, 1.5, 2.5, 3, 3.5], "labels": false, "tickSize": -5, "domain": false, "title": null}},
  "y2": {"field": "hi"},
  "stroke": {"field": "cent", "type": "nominal", "legend": null}
 }},
{"data": {"name": "pts"}, "transform": [{"filter": "datum.panel == 'os'"}],
 "mark": {"type": "tick", "orient": "horizontal", "size": 9, "thickness": 1.2, "opacity": 0.85},
 "encoding": {"x": {"field": "phi", "type": "quantitative", "axis": null}, "y": {"field": "lo", "type": "quantitative", "axis": null}, "fill": {"field": "cent", "type": "nominal", "scale": {"domain": ["40-80%", "10-20%", "0-5%"], "range": ["#00e800", "#0000ff", "#ff0000"]}, "legend": null}}},
{"data": {"name": "pts"}, "transform": [{"filter": "datum.panel == 'os'"}],
 "mark": {"type": "tick", "orient": "horizontal", "size": 9, "thickness": 1.2, "opacity": 0.85},
 "encoding": {"x": {"field": "phi", "type": "quantitative", "axis": null}, "y": {"field": "hi", "type": "quantitative", "axis": null}, "fill": {"field": "cent", "type": "nominal", "legend": null}}},
{"data": {"name": "pts"}, "transform": [{"filter": "datum.panel == 'os' && !datum.open"}],
 "mark": {"type": "point", "filled": true, "size": 140, "opacity": 1},
 "encoding": {
  "x": {"field": "phi", "type": "quantitative", "axis": {"orient": "top", "values": [0, 0.7854, 1.5708, 2.3562, 3.1416], "labels": false, "tickSize": -8, "domainColor": "#000", "domainWidth": 2, "title": null}},
  "y": {"field": "R", "type": "quantitative", "axis": {"orient": "left", "values": [-2, 0, 2], "labels": false, "tickSize": -10, "domainColor": "#000", "domainWidth": 3, "title": null}},
  "color": {"field": "cent", "type": "nominal", "scale": {"domain": ["0-5%", "10-20%", "40-80%"], "range": ["#ff0000", "#0000ff", "#00e800"]}},
  "shape": {"field": "cent", "type": "nominal", "scale": {"domain": ["0-5%", "10-20%", "40-80%"], "range": ["M0,-1.248L0.31,-0.294L1.313,-0.294L0.5,0.295L0.811,1.248L0,0.659L-0.811,1.248L-0.5,0.295L-1.313,-0.294L-0.31,-0.294Z", "square", "triangle-up"]}}
 }},
{"data": {"name": "pts"}, "transform": [{"filter": "datum.panel == 'os' && datum.open"}],
 "mark": {"type": "point", "filled": false, "size": 140, "strokeWidth": 1.2, "opacity": 1},
 "encoding": {
  "x": {"field": "phi", "type": "quantitative", "axis": null},
  "y": {"field": "R", "type": "quantitative", "axis": {"orient": "left", "values": [-2.5, -1.5, -1, -0.5, 0.5, 1, 1.5, 2.5, 3, 3.5], "labels": false, "tickSize": -5, "domain": false, "title": null}},
  "color": {"field": "cent", "type": "nominal"},
  "shape": {"field": "cent", "type": "nominal"}
 }}
]
}
],
"config": {
 "view": {"stroke": null},
 "legend": {"orient": "none", "legendX": -38, "legendY": -48, "direction": "horizontal", "columns": 3, "gridAlign": "all", "columnPadding": 5, "title": null, "labelFont": "Liberation Sans", "labelFontSize": 24, "labelFontWeight": "bold", "labelColor": "#000", "labelOffset": 8, "symbolSize": 150, "symbolStrokeWidth": 0, "titleFontSize": 0},
 "axis": {"grid": false, "tickColor": "#333333", "tickWidth": 1.3, "labelFont": "Liberation Sans", "labelFontWeight": "bold", "labelFontSize": 26, "labelColor": "#000000", "titleFont": "Liberation Sans", "titleFontWeight": "bold", "titleFontSize": 29, "titleColor": "#000000", "labelOverlap": false, "labelFlush": false, "labelBound": false}
}
}
